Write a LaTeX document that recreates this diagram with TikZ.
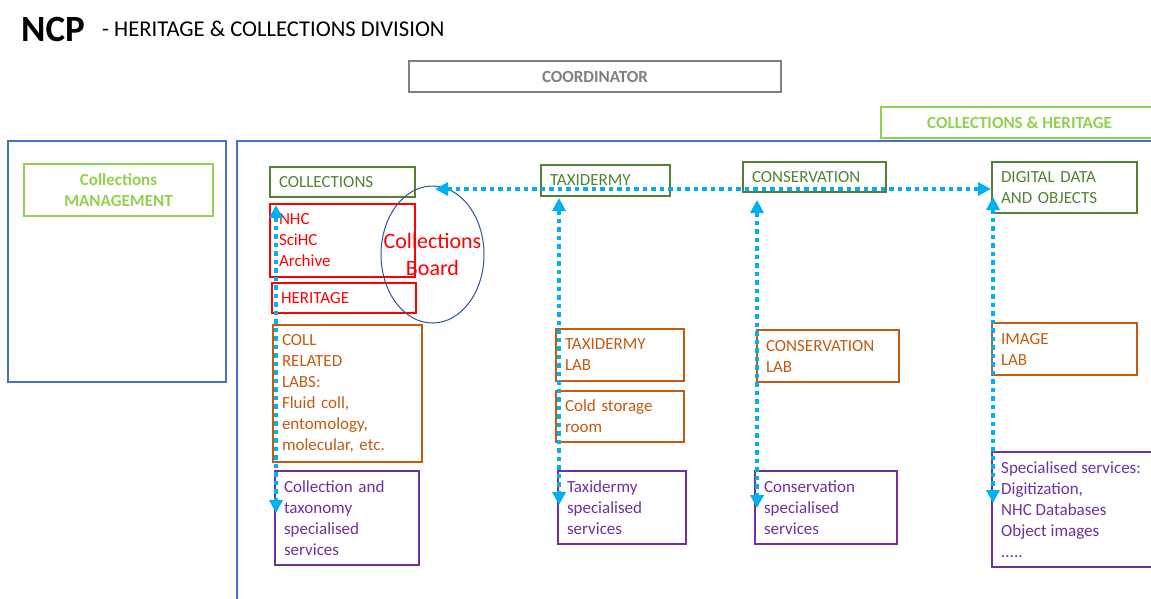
\documentclass[tikz,border=0pt]{standalone}
\usepackage{fontspec}
\setmainfont{Carlito}
\usetikzlibrary{arrows.meta,shapes.geometric}
\definecolor{dgreen}{HTML}{548235}
\definecolor{lgreen}{HTML}{92D050}
\definecolor{ored}{HTML}{FF0000}
\definecolor{orng}{HTML}{C55A11}
\definecolor{purp}{HTML}{7030A0}
\definecolor{bblue}{HTML}{4472C4}
\definecolor{dblue}{HTML}{2F5597}
\definecolor{cyanl}{HTML}{00B0F0}
\definecolor{grayb}{HTML}{7F7F7F}
\tikzset{
  bx/.style={draw, rectangle, align=left, inner xsep=9pt, inner ysep=0pt,
    font=\fontsize{17}{21}\selectfont\frenchspacing, anchor=center},
  grn/.style={bx, draw=dgreen, text=dgreen, line width=2pt},
  rd/.style={bx, draw=ored, text=ored, line width=2.4pt},
  org/.style={bx, draw=orng, text=orng, line width=2pt},
  prp/.style={bx, draw=purp, text=purp, line width=1.2pt},
  hdr/.style={draw, rectangle, align=center, inner sep=0pt, line width=2pt,
    font=\fontsize{17}{21}\selectfont\bfseries},
  outer/.style={draw=bblue, line width=1.4pt, rectangle, inner sep=0pt},
  flow/.style={draw=cyanl, line width=4pt, dash pattern=on 4.5pt off 4pt,
    {Triangle[width=13pt,length=13pt]}-{Triangle[width=13pt,length=13pt]}},
}
\begin{document}
\begin{tikzpicture}[x=1pt,y=-1pt]
\useasboundingbox (0,0) rectangle (1151,598);
\fill[white] (0,0) rectangle (1151,598);

% title
\node[anchor=base west, inner sep=0pt, font=\fontsize{37}{40}\selectfont\bfseries] (ncp) at (21,41) {NCP};
\node[anchor=base west, inner sep=0pt, font=\fontsize{22.6}{26}\selectfont] (sub) at (102,36) {- HERITAGE \& COLLECTIONS DIVISION};

% headers
\node[hdr, draw=grayb, text=grayb, minimum width=372pt, minimum height=31pt] (coord) at (595,76.5) {COORDINATOR};
\node[anchor=west, inner sep=0pt, text=lgreen, font=\fontsize{17}{21}\selectfont\bfseries] (ch) at (927,122.5) {COLLECTIONS \& HERITAGE};
\draw[lgreen, line width=2pt] (1152,107) -- (881,107) -- (881,138) -- (1152,138);

% outer blue boxes
\node[outer, minimum width=218pt, minimum height=241pt] (leftbox) at (117,261.5) {};
\coordinate (bbtl) at (237,141);
\draw[draw=bblue, line width=1.4pt] (237,599) -- (bbtl) -- (1152,141);
\node[hdr, draw=lgreen, text=lgreen, line width=2.4pt, minimum width=189pt, minimum height=52pt] (cm) at (118.5,190) {Collections\\MANAGEMENT};

% collections column
\node[grn, text width=127pt, minimum height=30pt] (coll) at (342.5,182) {COLLECTIONS};
\node[rd, text width=127pt, minimum height=73pt] (nhc) at (342.5,240.5) {NHC\\SciHC\\Archive};
\node[rd, text width=126pt, minimum height=30pt] (her) at (344,298) {HERITAGE};
\node[org, text width=131pt, minimum height=137pt] (labs) at (347.5,393.5) {COLL\\RELATED\\LABS:\\Fluid coll,\\entomology,\\molecular, etc.};
\node[prp, text width=126pt, minimum height=94pt] (cts) at (347,518) {Collection and\\taxonomy\\specialised\\services};
\node[draw=dblue, line width=1pt, ellipse, minimum width=103pt, minimum height=137pt, inner sep=0pt] (board) at (432.5,254.5) {};
\node[align=center, text=ored, inner sep=0pt, font=\fontsize{22}{26.7}\selectfont] (boardtxt) at (board.center) {Collections\\Board};

% taxidermy column
\node[grn, text width=111pt, minimum height=31pt] (tax) at (605.5,180.5) {TAXIDERMY};
\node[org, text width=110pt, minimum height=52pt] (taxlab) at (620,355) {TAXIDERMY\\LAB};
\node[org, text width=110pt, minimum height=51pt] (cold) at (620,416.5) {Cold storage\\room};
\node[prp, text width=110pt, minimum height=73pt] (taxss) at (622,507.5) {Taxidermy\\specialised\\services};

% conservation column
\node[grn, text width=125pt, minimum height=30pt] (cons) at (814.5,177) {CONSERVATION};
\node[org, text width=124pt, minimum height=52pt] (conslab) at (828,356) {CONSERVATION\\LAB};
\node[prp, text width=124pt, minimum height=73pt] (consss) at (826,507.5) {Conservation\\specialised\\services};

% digital column
\node[grn, text width=127pt, minimum height=51pt] (dig) at (1064.5,187.5) {DIGITAL DATA\\AND OBJECTS};
\node[org, text width=127pt, minimum height=52pt] (img) at (1064.5,349) {IMAGE\\LAB};
\node[anchor=west, align=left, inner sep=0pt, text=purp, font=\fontsize{17}{21}\selectfont\frenchspacing] (dss) at (1001,510) {Specialised services:\\Digitization,\\NHC Databases\\Object images\\.....};
\draw[purp, line width=1.2pt] (1152,452) -- (992,452) -- (992,567) -- (1152,567);

% connector end points
\coordinate (hl) at (435,189);
\coordinate (hr) at (991,189);
\coordinate (c1t) at (276,205);
\coordinate (c1b) at (276,513);
\coordinate (c2t) at (559,198);
\coordinate (c2b) at (559,505);
\coordinate (c3t) at (757,200);
\coordinate (c3b) at (757,508);
\coordinate (c4t) at (993,197);
\coordinate (c4b) at (993,503);

% connectors
\draw[flow] (hl) -- (hr);
\draw[flow] (c1t) -- (c1b);
\draw[flow] (c2t) -- (c2b);
\draw[flow] (c3t) -- (c3b);
\draw[flow] (c4t) -- (c4b);
\end{tikzpicture}
\end{document}
